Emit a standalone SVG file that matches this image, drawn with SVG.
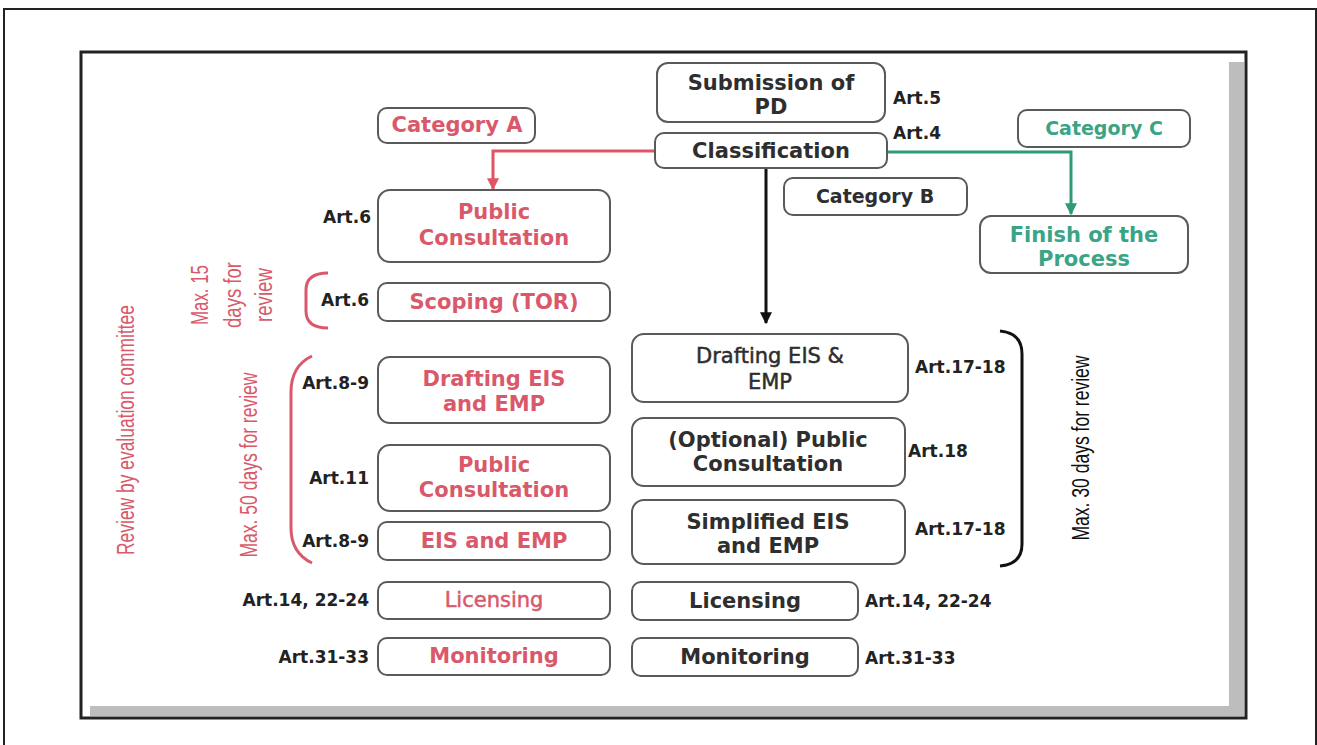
<svg xmlns="http://www.w3.org/2000/svg" width="1317" height="745" viewBox="0 0 1317 745">
<style>
.box{fill:#fff;stroke:#5a5a5a;stroke-width:2}
.t{font-family:"DejaVu Sans","Liberation Sans",sans-serif;font-weight:700;font-size:21px;text-anchor:middle;fill:#2e2e2e}
.c{font-size:19px}
.r{fill:#d9596b}
.g{fill:#3aa487}
.n{font-weight:400;stroke:#2e2e2e;stroke-width:0.5}
.nr{font-weight:400;stroke:#d9596b;stroke-width:0.5}
.art{font-family:"DejaVu Sans","Liberation Sans",sans-serif;font-weight:700;font-size:17px;fill:#222}
.end{text-anchor:end}
.rot{font-family:"Liberation Sans",Lato,sans-serif;font-size:23px;text-anchor:middle}
</style>
<defs>
<marker id="ar" viewBox="0 0 10 10" refX="9" refY="5" markerWidth="4" markerHeight="4" orient="auto" markerUnits="strokeWidth"><path d="M0,0 L10,5 L0,10 Z" fill="#df5563"/></marker>
<marker id="ag" viewBox="0 0 10 10" refX="9" refY="5" markerWidth="4" markerHeight="4" orient="auto" markerUnits="strokeWidth"><path d="M0,0 L10,5 L0,10 Z" fill="#2f9a78"/></marker>
<marker id="ak" viewBox="0 0 10 10" refX="9" refY="5" markerWidth="4" markerHeight="4" orient="auto" markerUnits="strokeWidth"><path d="M0,0 L10,5 L0,10 Z" fill="#111"/></marker>
</defs>
<rect x="0" y="0" width="1317" height="745" fill="#fff"/>
<rect x="4" y="9" width="1312" height="745" fill="none" stroke="#222" stroke-width="2"/>
<g id="frame">
<rect x="81" y="52" width="1165" height="666" fill="#fff" stroke="#222" stroke-width="3"/>
<rect x="1229" y="62" width="15" height="654" fill="#bdbdbd"/>
<rect x="90" y="706" width="1154" height="10" fill="#bdbdbd"/>
</g>
<g id="connectors" fill="none" stroke-width="3">
<path d="M655,151 H493 V189" stroke="#df5563" marker-end="url(#ar)"/>
<path d="M887,152 H1071 V214" stroke="#2f9a78" marker-end="url(#ag)"/>
<path d="M766,168 V323" stroke="#111" marker-end="url(#ak)"/>
</g>
<g id="submission"><rect class="box" x="657" y="63" width="228" height="59" rx="11"/><text class="t" x="771" y="90">Submission of</text><text class="t" x="771" y="114">PD</text><text class="art" x="893" y="104">Art.5</text></g>
<g id="classification"><rect class="box" x="655" y="133" width="232" height="35" rx="9"/><text class="t" x="771" y="158">Classification</text><text class="art" x="893" y="139">Art.4</text></g>
<g id="catA"><rect class="box" x="378" y="108" width="157" height="35" rx="9"/><text class="t r" x="457" y="132" font-size="17">Category A</text></g>
<g id="catC"><rect class="box" x="1018" y="110" width="172" height="37" rx="9"/><text class="t g c" x="1104" y="135">Category C</text></g>
<g id="catB"><rect class="box" x="784" y="178" width="183" height="37" rx="9"/><text class="t c" x="875" y="203">Category B</text></g>
<g id="finish"><rect class="box" x="980" y="216" width="208" height="57" rx="11"/><text class="t g" x="1084" y="242">Finish of the</text><text class="t g" x="1084" y="266">Process</text></g>
<g id="pcA"><rect class="box" x="378" y="190" width="232" height="72" rx="12"/><text class="t r" x="494" y="219">Public</text><text class="t r" x="494" y="245">Consultation</text><text class="art end" x="371" y="223">Art.6</text></g>
<g id="scoping"><rect class="box" x="378" y="283" width="232" height="38" rx="9"/><text class="t r" x="494" y="309">Scoping (TOR)</text><text class="art end" x="369" y="306">Art.6</text></g>
<g id="draftA"><rect class="box" x="378" y="357" width="232" height="66" rx="12"/><text class="t r" x="494" y="386">Drafting EIS</text><text class="t r" x="494" y="411">and EMP</text><text class="art end" x="369" y="389">Art.8-9</text></g>
<g id="pcA2"><rect class="box" x="378" y="445" width="232" height="66" rx="12"/><text class="t r" x="494" y="472">Public</text><text class="t r" x="494" y="497">Consultation</text><text class="art end" x="369" y="484">Art.11</text></g>
<g id="eisA"><rect class="box" x="378" y="522" width="232" height="38" rx="9"/><text class="t r" x="494" y="548">EIS and EMP</text><text class="art end" x="369" y="547">Art.8-9</text></g>
<g id="licA"><rect class="box" x="378" y="582" width="232" height="37" rx="9"/><text class="t r nr" x="494" y="607">Licensing</text><text class="art end" x="369" y="606">Art.14, 22-24</text></g>
<g id="monA"><rect class="box" x="378" y="638" width="232" height="37" rx="9"/><text class="t r" x="494" y="663">Monitoring</text><text class="art end" x="369" y="663">Art.31-33</text></g>
<g id="draftB"><rect class="box" x="632" y="334" width="276" height="68" rx="12"/><text class="t n" x="770" y="363">Drafting EIS &amp;</text><text class="t n" x="770" y="389">EMP</text><text class="art" x="915" y="373">Art.17-18</text></g>
<g id="pcB"><rect class="box" x="632" y="418" width="273" height="68" rx="12"/><text class="t" x="768" y="447">(Optional) Public</text><text class="t" x="768" y="471">Consultation</text><text class="art" x="908" y="457">Art.18</text></g>
<g id="eisB"><rect class="box" x="632" y="500" width="273" height="64" rx="12"/><text class="t" x="768" y="529">Simplified EIS</text><text class="t" x="768" y="553">and EMP</text><text class="art" x="915" y="535">Art.17-18</text></g>
<g id="licB"><rect class="box" x="632" y="582" width="226" height="38" rx="9"/><text class="t" x="745" y="608">Licensing</text><text class="art" x="865" y="607">Art.14, 22-24</text></g>
<g id="monB"><rect class="box" x="632" y="638" width="226" height="38" rx="9"/><text class="t" x="745" y="664">Monitoring</text><text class="art" x="865" y="664">Art.31-33</text></g>
<g id="brackets" fill="none" stroke-width="3">
<path d="M328,273 Q306,273 306,290 L306,311 Q306,328 328,328" stroke="#d9596b"/>
<path d="M312,356 Q291,366 291,392 L291,528 Q291,553 312,563" stroke="#d9596b"/>
<path d="M1000,331 Q1022,333 1022,354 L1022,544 Q1022,564 1000,566" stroke="#111"/>
</g>
<g id="rotated">
<text class="rot r" transform="translate(134,430) rotate(-90)" textLength="250" lengthAdjust="spacingAndGlyphs">Review by evaluation committee</text>
<text class="rot r" transform="translate(208,295) rotate(-90)" font-size="21" textLength="60" lengthAdjust="spacingAndGlyphs">Max. 15</text>
<text class="rot r" transform="translate(241,295) rotate(-90)" font-size="21" textLength="66" lengthAdjust="spacingAndGlyphs">days for</text>
<text class="rot r" transform="translate(272,295) rotate(-90)" font-size="21" textLength="54" lengthAdjust="spacingAndGlyphs">review</text>
<text class="rot r" transform="translate(257,465) rotate(-90)" textLength="185" lengthAdjust="spacingAndGlyphs">Max. 50 days for review</text>
<text class="rot" fill="#111" transform="translate(1089,448) rotate(-90)" textLength="185" lengthAdjust="spacingAndGlyphs">Max. 30 days for review</text>
</g>
</svg>
